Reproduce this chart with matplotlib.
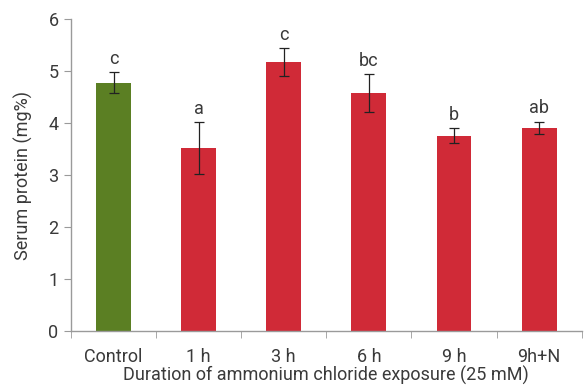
import matplotlib
matplotlib.use("Agg")
import matplotlib.pyplot as plt

categories = ["Control", "1 h", "3 h", "6 h", "9 h", "9h+N"]
means = [4.78, 3.52, 5.17, 4.58, 3.76, 3.91]
errors = [0.20, 0.50, 0.27, 0.36, 0.15, 0.12]
letters = ["c", "a", "c", "bc", "b", "ab"]
colors = ["#5b7f23", "#d02a37", "#d02a37", "#d02a37", "#d02a37", "#d02a37"]

plt.rcParams["font.family"] = ["Roboto", "DejaVu Sans"]
text_color = "#3a3a3a"
spine_color = "#9a9a9a"
fs = 13

fig = plt.figure(figsize=(5.86, 3.88), dpi=100)
ax = fig.add_axes([0.1212, 0.1469, 0.8714, 0.8034])

x = list(range(len(categories)))
ax.bar(x, means, width=0.41, color=colors, zorder=2)
ax.errorbar(x, means, yerr=errors, fmt="none", ecolor="#222222",
            elinewidth=0.9, capsize=3.5, capthick=0.9, zorder=3)

for xi, m, e, lab in zip(x, means, errors, letters):
    ax.text(xi, m + e + 0.08, lab, ha="center", va="bottom",
            fontsize=fs, color=text_color)

ax.set_xlim(-0.5, len(categories) - 0.5)
ax.set_ylim(0, 6)
ax.set_yticks(range(0, 7))
ax.set_xticks(x)
ax.set_xticklabels(categories)
ax.set_xticks([i - 0.5 for i in range(len(categories) + 1)], minor=True)
ax.tick_params(axis="x", which="major", length=0, pad=12, labelsize=fs,
               labelcolor=text_color)
ax.tick_params(axis="x", which="minor", length=5, color=spine_color,
               direction="out")
ax.tick_params(axis="y", length=5, color=spine_color, labelsize=fs,
               labelcolor=text_color, pad=4)

for side in ("top", "right"):
    ax.spines[side].set_visible(False)
for side in ("left", "bottom"):
    ax.spines[side].set_color(spine_color)
    ax.spines[side].set_linewidth(1.0)

ax.set_ylabel("Serum protein (mg%)", fontsize=fs, color=text_color, labelpad=11)
ax.set_xlabel("Duration of ammonium chloride exposure (25 mM)", fontsize=fs,
              color=text_color, labelpad=0)

fig.savefig("out.png", dpi=100)
